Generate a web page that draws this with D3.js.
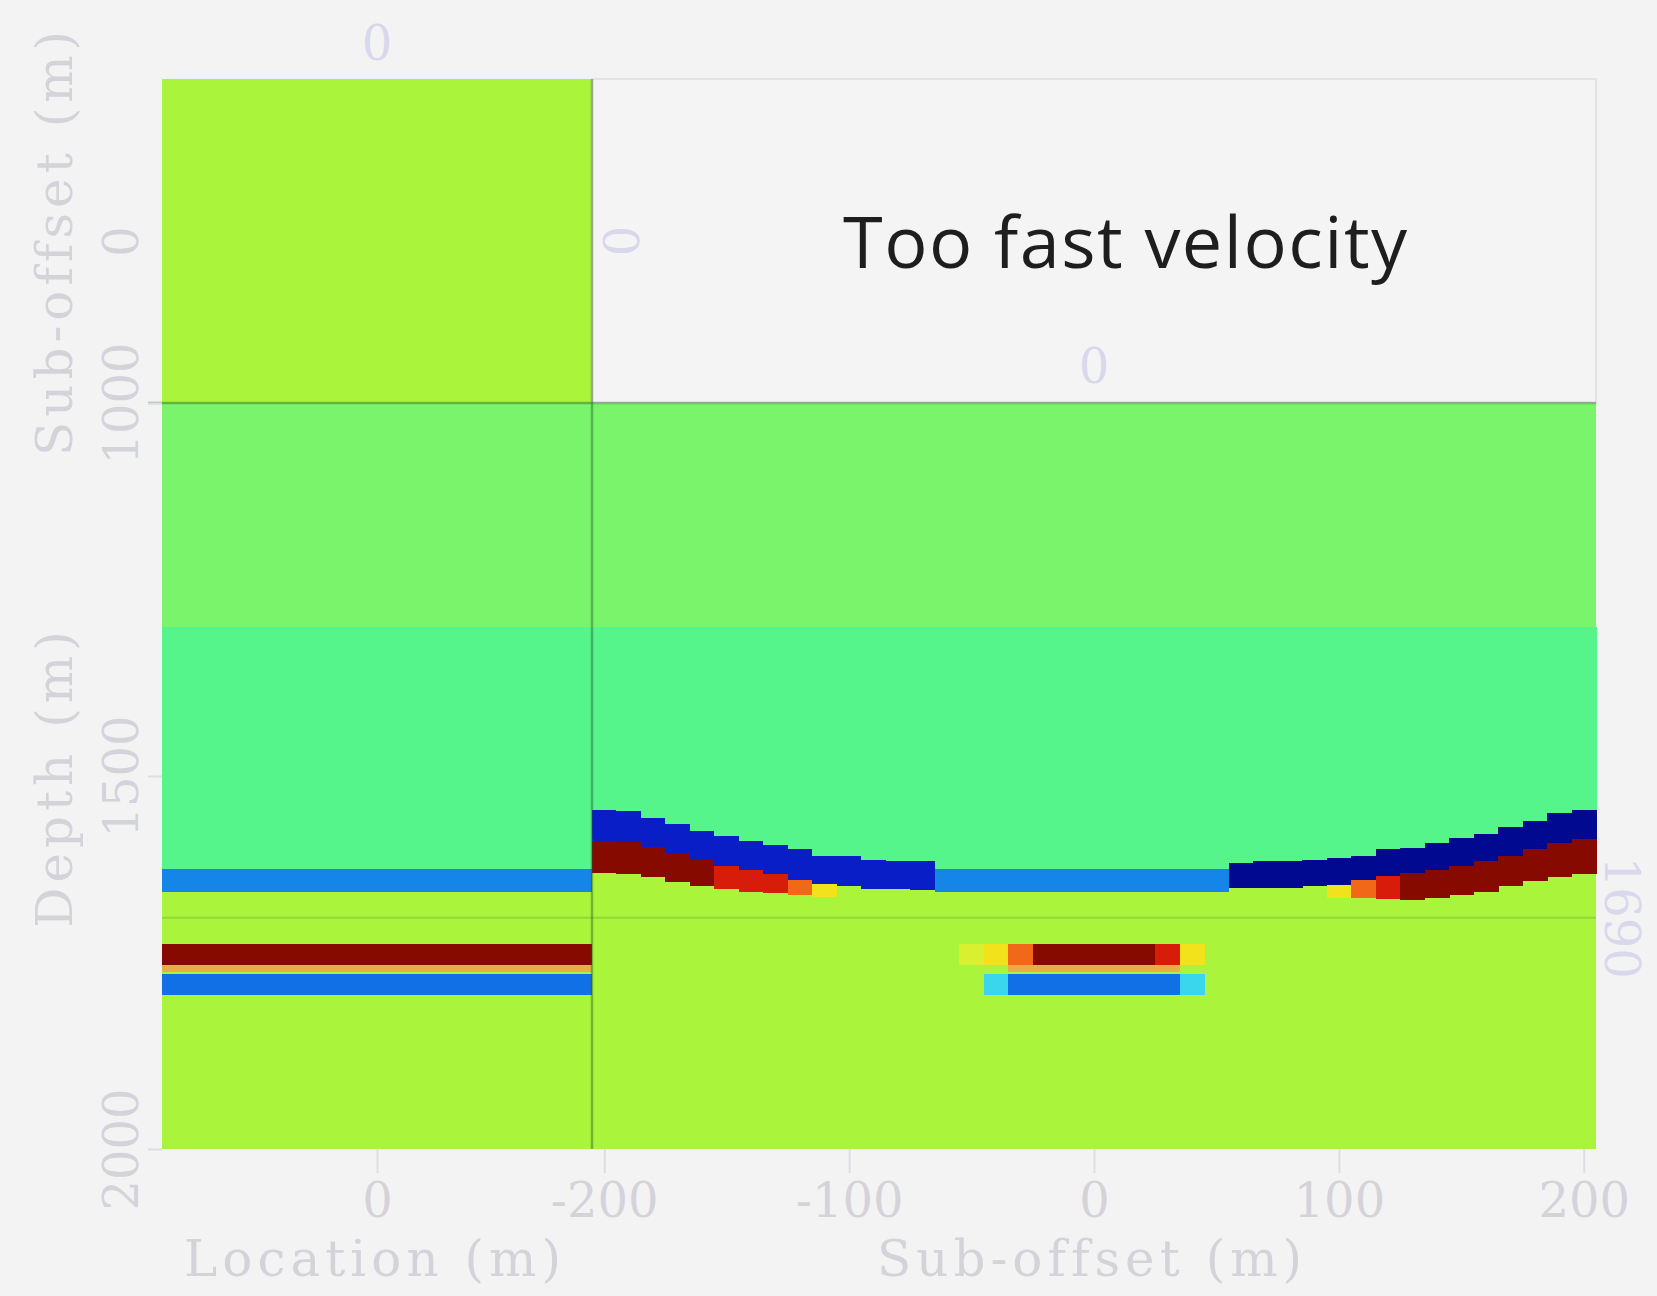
<!DOCTYPE html>
<html>
<head>
<meta charset="utf-8">
<script src="https://cdn.jsdelivr.net/npm/d3@7"></script>
<style>
  body { margin: 0; background: #f4f3f4; }
  svg { display: block; }
  .axis path { display: none; }
  .axis line { stroke: #dfdde3; stroke-width: 2; }
  .axis text, .title { fill: #d5d3da; font-family: "DejaVu Serif", serif; }
  .slice-label { fill: #d9d7ec; font-family: "DejaVu Serif", serif; }
</style>
</head>
<body>
<div class="chart"></div>
<script>
// DATA //

// Colour classes used in the picture
const kinds = ["lgreen", "aqua", "ygreen", "blue", "blue2", "dblue", "navy",
  "dred", "red", "orange", "yellow", "pyellow", "tan", "cyan"];
const kindColors = ["#7af56b", "#55f58b", "#aaf53c", "#1585e8", "#1270e6", "#0a1ec8", "#00098f",
  "#870a00", "#d81c0a", "#f06818", "#f2e21c", "#d8f030", "#e4b046", "#3ad6ee"];

// Horizontal layers at zero sub-offset (depth in m)
const layerTop = [1000, 1300, 1625, 1655, 1725, 1753, 1763, 1766, 1793];
const layerBot = [1300, 1625, 1655, 1725, 1753, 1763, 1766, 1793, 2000];
const layerKind = ["lgreen", "aqua", "blue", "ygreen", "dred", "tan", "ygreen", "blue2", "ygreen"];

// Upper reflector in the sub-offset gather (one column per sub-offset)
const subOffsets = [-200, -190, -180, -170, -160, -150, -140, -130, -120, -110, -100, -90, -80, -70,
  -60, -50, -40, -30, -20, -10, 0, 10, 20, 30, 40, 50,
  60, 70, 80, 90, 100, 110, 120, 130, 140, 150, 160, 170, 180, 190, 200];
const eventTop = [1545, 1547, 1556, 1565, 1574, 1580, 1587, 1592, 1598, 1607, 1607, 1612, 1614, 1614,
  1625, 1625, 1625, 1625, 1625, 1625, 1625, 1625, 1625, 1625, 1625, 1625,
  1616, 1614, 1614, 1612, 1610, 1607, 1598, 1596, 1590, 1583, 1578, 1569, 1560, 1550, 1545];
const eventMid = [1587, 1588, 1595, 1603, 1612, 1620, 1626, 1632, 1640, 1645, 1648, 1652, 1652, 1653,
  1655, 1655, 1655, 1655, 1655, 1655, 1655, 1655, 1655, 1655, 1655, 1655,
  1650, 1650, 1650, 1648, 1646, 1640, 1634, 1630, 1626, 1620, 1614, 1607, 1598, 1590, 1585];
const eventBot = [1630, 1632, 1636, 1642, 1648, 1652, 1655, 1657, 1660, 1662, 1648, 1652, 1652, 1653,
  1655, 1655, 1655, 1655, 1655, 1655, 1655, 1655, 1655, 1655, 1655, 1655,
  1650, 1650, 1650, 1648, 1664, 1664, 1665, 1666, 1664, 1660, 1655, 1648, 1641, 1636, 1632];
const blueKind = ["dblue", "dblue", "dblue", "dblue", "dblue", "dblue", "dblue", "dblue", "dblue", "dblue", "dblue", "dblue", "dblue", "dblue",
  "blue", "blue", "blue", "blue", "blue", "blue", "blue", "blue", "blue", "blue", "blue", "blue",
  "navy", "navy", "navy", "navy", "navy", "navy", "navy", "navy", "navy", "navy", "navy", "navy", "navy", "navy", "navy"];
const redKind = ["dred", "dred", "dred", "dred", "dred", "red", "red", "red", "orange", "yellow", null, null, null, null,
  null, null, null, null, null, null, null, null, null, null, null, null,
  null, null, null, null, "yellow", "orange", "red", "dred", "dred", "dred", "dred", "dred", "dred", "dred", "dred"];

// Lower reflector, flat, only near zero sub-offset
const centerOffsets = [-50, -40, -30, -20, -10, 0, 10, 20, 30, 40];
const centerRedKind = ["pyellow", "yellow", "orange", "dred", "dred", "dred", "dred", "dred", "red", "yellow"];
const centerTanKind = [null, null, "tan", "tan", "tan", "tan", "tan", "tan", "tan", null];
const centerBlueKind = [null, "cyan", "blue2", "blue2", "blue2", "blue2", "blue2", "blue2", "blue2", "cyan"];

// Slice positions and tick labels
const sliceDepth = 1690;
const sliceLocation = 0;
const sliceSubOffset = 0;
const locationTicks = [0];
const subOffsetTicks = [-200, -100, 0, 100, 200];
const depthTicks = [1000, 1500, 2000];
const topSubTicks = [0];

// CHART //

const w = 1657;
const h = 1296;
const box = { left: 162, mid: 592, right: 1596, top: 79, split: 403, bottom: 1149 };

const svg = d3.select(".chart").append("svg")
  .attr("width", w)
  .attr("height", h);

// Scales
const xLoc = d3.scaleLinear().domain([-200, 200]).range([box.left, box.mid]);
const xOff = d3.scaleLinear().domain([-205, 205]).range([box.mid, box.right]);
const yDepth = d3.scaleLinear().domain([1000, 2000]).range([box.split, box.bottom]);
const ySub = d3.scaleLinear().domain([-205, 205]).range([box.top, box.split]);
const color = d3.scaleOrdinal().domain(kinds).range(kindColors);

// plain number format with a hyphen for negatives
const fmt = (d) => String(d);

const cells = svg.append("g").attr("shape-rendering", "crispEdges");

// Empty top-right frame
svg.append("rect")
  .attr("x", box.mid).attr("y", box.top)
  .attr("width", box.right - box.mid).attr("height", box.split - box.top)
  .attr("fill", "#f5f4f5").attr("stroke", "#e4e2e6").attr("stroke-width", 2);

// Top panel: depth slice, colour of the layer that contains sliceDepth
const sliceLayer = layerTop.findIndex((t, i) => sliceDepth >= t && sliceDepth < layerBot[i]);
cells.append("rect")
  .attr("x", xLoc(-200)).attr("y", ySub(-205))
  .attr("width", xLoc(200) - xLoc(-200)).attr("height", ySub(205) - ySub(-205))
  .attr("fill", color(layerKind[sliceLayer]));

// Left panel: flat layers
cells.selectAll(".layer")
  .data(layerTop)
  .enter().append("rect")
  .attr("class", "layer")
  .attr("x", xLoc(-200))
  .attr("width", xLoc(200) - xLoc(-200))
  .attr("y", (d) => yDepth(d))
  .attr("height", (d, i) => yDepth(layerBot[i]) - yDepth(d))
  .attr("fill", (d, i) => color(layerKind[i]));

// Right panel background
cells.append("rect")
  .attr("x", xOff(-205)).attr("y", yDepth(1000))
  .attr("width", xOff(205) - xOff(-205)).attr("height", yDepth(2000) - yDepth(1000))
  .attr("fill", color("ygreen"));
cells.append("rect")
  .attr("x", xOff(-205)).attr("y", yDepth(layerTop[0]))
  .attr("width", xOff(205) - xOff(-205)).attr("height", yDepth(layerBot[0]) - yDepth(layerTop[0]))
  .attr("fill", color(layerKind[0]));

// Right panel columns
const col = (v) => ({ x: xOff(v - 5), width: xOff(v + 5) - xOff(v - 5) });
subOffsets.forEach((v, i) => {
  const c = col(v);
  cells.append("rect")
    .attr("x", c.x).attr("width", c.width + 0.5)
    .attr("y", yDepth(layerBot[0])).attr("height", yDepth(eventTop[i]) - yDepth(layerBot[0]))
    .attr("fill", color("aqua"));
  cells.append("rect")
    .attr("x", c.x).attr("width", c.width + 0.5)
    .attr("y", yDepth(eventTop[i])).attr("height", yDepth(eventMid[i]) - yDepth(eventTop[i]))
    .attr("fill", color(blueKind[i]));
  if (redKind[i]) {
    cells.append("rect")
      .attr("x", c.x).attr("width", c.width + 0.5)
      .attr("y", yDepth(eventMid[i])).attr("height", yDepth(eventBot[i]) - yDepth(eventMid[i]))
      .attr("fill", color(redKind[i]));
  }
});

// Lower reflector near zero sub-offset (uses depths of left panel layers 4, 5, 7)
centerOffsets.forEach((v, i) => {
  const c = col(v);
  const bands = [
    [layerTop[4], layerBot[4], centerRedKind[i]],
    [layerTop[5], layerBot[5], centerTanKind[i]],
    [layerTop[7], layerBot[7], centerBlueKind[i]],
  ];
  bands.forEach(([t, b, k]) => {
    if (!k) return;
    cells.append("rect")
      .attr("x", c.x).attr("width", c.width + 0.5)
      .attr("y", yDepth(t)).attr("height", yDepth(b) - yDepth(t))
      .attr("fill", color(k));
  });
});

// FRAME AND SLICE LINES //

svg.append("line")
  .attr("x1", box.left - 14).attr("x2", box.right)
  .attr("y1", box.split).attr("y2", box.split)
  .attr("stroke", "rgba(30,80,30,0.4)").attr("stroke-width", 2.5);
svg.append("line")
  .attr("x1", box.mid).attr("x2", box.mid)
  .attr("y1", box.top).attr("y2", box.bottom)
  .attr("stroke", "rgba(30,80,30,0.4)").attr("stroke-width", 2.5);
svg.append("line")
  .attr("x1", box.left).attr("x2", box.right)
  .attr("y1", yDepth(sliceDepth)).attr("y2", yDepth(sliceDepth))
  .attr("stroke", "rgba(40,90,20,0.18)").attr("stroke-width", 2);

// AXES //

const tickFont = 48;

// Bottom: location
svg.append("g")
  .attr("class", "axis")
  .attr("transform", `translate(0, ${box.bottom})`)
  .call(d3.axisBottom(xLoc).tickValues(locationTicks).tickFormat(fmt).tickSize(24).tickPadding(10))
  .selectAll("text").style("font-size", tickFont + "px");

// Bottom: sub-offset
svg.append("g")
  .attr("class", "axis")
  .attr("transform", `translate(0, ${box.bottom})`)
  .call(d3.axisBottom(xOff).tickValues(subOffsetTicks).tickFormat(fmt).tickSize(24).tickPadding(10))
  .selectAll("text").style("font-size", tickFont + "px");

// Left: depth, labels rotated
const depthAxis = svg.append("g")
  .attr("class", "axis")
  .attr("transform", `translate(${box.left}, 0)`)
  .call(d3.axisLeft(yDepth).tickValues(depthTicks).tickFormat(fmt).tickSize(14));
depthAxis.selectAll("text")
  .attr("transform", "rotate(-90)")
  .attr("x", 0).attr("y", -41).attr("dy", "0.35em")
  .attr("text-anchor", "middle")
  .style("font-size", tickFont + "px");

// Left: sub-offset of the top panel
const subAxis = svg.append("g")
  .attr("class", "axis")
  .attr("transform", `translate(${box.left}, 0)`)
  .call(d3.axisLeft(ySub).tickValues(topSubTicks).tickFormat(fmt).tickSize(0));
subAxis.selectAll("text")
  .attr("transform", "rotate(-90)")
  .attr("x", 0).attr("y", -41).attr("dy", "0.35em")
  .attr("text-anchor", "middle")
  .style("font-size", tickFont + "px");

// Axis titles
const titleFont = 50;
svg.append("text").attr("class", "title")
  .text("Location (m)")
  .attr("x", 375).attr("y", 1276)
  .attr("text-anchor", "middle")
  .style("font-size", titleFont + "px").style("letter-spacing", "5px");
svg.append("text").attr("class", "title")
  .text("Sub-offset (m)")
  .attr("x", 1092).attr("y", 1276)
  .attr("text-anchor", "middle")
  .style("font-size", titleFont + "px").style("letter-spacing", "5px");
svg.append("text").attr("class", "title")
  .text("Sub-offset (m)")
  .attr("transform", `translate(72, ${(box.top + box.split) / 2}) rotate(-90)`)
  .attr("text-anchor", "middle")
  .style("font-size", titleFont + "px").style("letter-spacing", "5px");
svg.append("text").attr("class", "title")
  .text("Depth (m)")
  .attr("transform", `translate(72, 777) rotate(-90)`)
  .attr("text-anchor", "middle")
  .style("font-size", titleFont + "px").style("letter-spacing", "5px");

// Slice position labels
svg.append("text").attr("class", "slice-label")
  .text(fmt(sliceLocation))
  .attr("x", xLoc(sliceLocation)).attr("y", 60)
  .attr("text-anchor", "middle").style("font-size", tickFont + "px");
svg.append("text").attr("class", "slice-label")
  .text(fmt(sliceSubOffset))
  .attr("transform", `translate(${box.mid + 30}, ${ySub(sliceSubOffset)}) rotate(-90)`)
  .attr("dy", "0.35em")
  .attr("text-anchor", "middle").style("font-size", tickFont + "px");
svg.append("text").attr("class", "slice-label")
  .text(fmt(sliceSubOffset))
  .attr("x", xOff(sliceSubOffset)).attr("y", 383)
  .attr("text-anchor", "middle").style("font-size", tickFont + "px");
svg.append("text").attr("class", "slice-label")
  .text(fmt(sliceDepth))
  .attr("transform", `translate(${box.right + 26}, ${yDepth(sliceDepth)}) rotate(90)`)
  .attr("dy", "0.35em")
  .attr("text-anchor", "middle").style("font-size", tickFont + "px");

// Annotation
svg.append("text")
  .text("Too fast velocity")
  .attr("x", 843).attr("y", 268)
  .attr("fill", "#1e1e1e")
  .style("font-family", "'Open Sans', sans-serif")
  .style("font-size", "72px")
  .style("letter-spacing", "1.5px");
</script>
</body>
</html>
